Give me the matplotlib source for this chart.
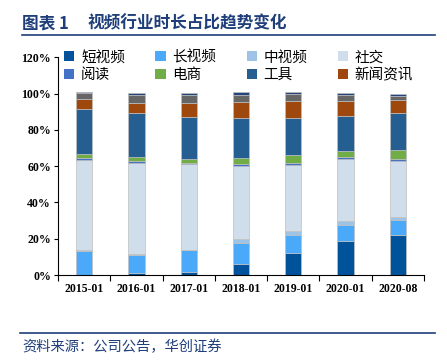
import matplotlib
matplotlib.use("Agg")
import matplotlib.pyplot as plt
import numpy as np
from matplotlib.patches import Patch

plt.rcParams['font.family'] = ['Noto Sans CJK SC', 'DejaVu Sans']

# data (percent of total time)
periods = ['2015-01', '2016-01', '2017-01', '2018-01', '2019-01', '2020-01', '2020-08']
series_names = ['短视频', '长视频', '中视频', '社交', '阅读', '电商', '工具', '新闻资讯', '其他', '其他2']
short_video = [0.0, 1.1, 1.5, 5.9, 11.9, 18.5, 22.0]
long_video = [13.4, 9.9, 12.1, 11.7, 10.1, 9.0, 8.1]
mid_video = [0.4, 0.5, 0.4, 2.0, 2.4, 2.2, 1.8]
social = [49.4, 50.3, 47.3, 40.6, 36.5, 34.1, 31.0]
reading = [1.5, 0.9, 0.7, 1.1, 1.1, 1.3, 1.1]
ecommerce = [2.2, 2.2, 2.0, 3.3, 3.9, 3.5, 5.1]
tools = [24.8, 24.6, 23.1, 21.7, 20.4, 18.9, 20.0]
news = [5.1, 5.5, 7.9, 8.8, 9.5, 8.4, 7.2]
other = [3.5, 4.4, 4.4, 4.0, 3.7, 3.1, 2.4]
other2 = [0.7, 1.1, 1.1, 1.5, 1.1, 1.5, 1.3]

all_series = [short_video, long_video, mid_video, social, reading,
              ecommerce, tools, news, other, other2]
colors = ['#00539B', '#4BA9F9', '#9DC3E6', '#D0DEEC', '#4472C4',
          '#70AD47', '#255E91', '#9E480E', '#666666', '#264478']

fig = plt.figure(figsize=(4.47, 3.63), dpi=100)
ax = fig.add_axes([58 / 447, 88 / 363, 366 / 447, 217.7 / 363])

x = np.arange(len(periods))
bottom = np.zeros(len(periods))
for vals, c in zip(all_series, colors):
    v = np.array(vals) / 100.0
    ax.bar(x, v, width=0.31, bottom=bottom, color=c,
           edgecolor='#BFBFBF', linewidth=0.5)
    bottom += v

ax.set_xlim(-0.5, len(periods) - 0.5)
ax.set_ylim(0, 1.2)
ax.set_yticks(np.arange(0, 1.21, 0.2))
ax.set_yticklabels([f'{int(round(t * 100))}%' for t in np.arange(0, 1.21, 0.2)],
                   fontfamily='Liberation Serif', fontweight='bold', fontsize=8.5)
ax.set_xticks(np.arange(-0.5, len(periods)), minor=False)
ax.set_xticklabels([])
ax.set_xticks(x, minor=True)
ax.set_xticklabels(periods, minor=True, fontfamily='Liberation Serif',
                   fontweight='bold', fontsize=8.5)
ax.tick_params(axis='x', which='minor', length=0, pad=6)
ax.tick_params(axis='x', which='major', length=4, direction='out', width=0.8)
ax.tick_params(axis='y', length=3, direction='out', width=0.8, pad=2)
for s in ['top', 'right']:
    ax.spines[s].set_visible(False)

handles = [Patch(facecolor=c, edgecolor='none', label=n)
           for c, n in zip(colors[:8], series_names[:8])]
order = [0, 4, 1, 5, 2, 6, 3, 7]
ax.legend([handles[i] for i in order], [series_names[i] for i in order],
          ncol=4, loc='upper left', bbox_to_anchor=(54 / 447, 1 - 40 / 363),
          bbox_transform=fig.transFigure, frameon=False, fontsize=10.5,
          handlelength=0.7, handleheight=0.7, handletextpad=0.45,
          columnspacing=2.1, labelspacing=0.25, borderpad=0.2)

navy = '#1F3E7A'
fig.text(22 / 447, 1 - 23 / 363, '图表 1', color=navy,
         fontsize=12, fontweight='bold', va='center', ha='left')
fig.text(88 / 447, 1 - 23 / 363, '视频行业时长占比趋势变化', color=navy,
         fontsize=12, fontweight='bold', va='center', ha='left')
fig.add_artist(plt.Line2D([22 / 447, 435 / 447], [1 - 34.5 / 363, 1 - 34.5 / 363],
                          color=navy, linewidth=1.2))
fig.add_artist(plt.Line2D([20 / 447, 435 / 447], [1 - 333 / 363, 1 - 333 / 363],
                          color=navy, linewidth=1.2))
fig.text(22 / 447, 1 - 347 / 363, '资料来源：公司公告，华创证券', color=navy,
         fontsize=10.3, style='italic', va='center', ha='left')

fig.savefig('out.png', dpi=100)
